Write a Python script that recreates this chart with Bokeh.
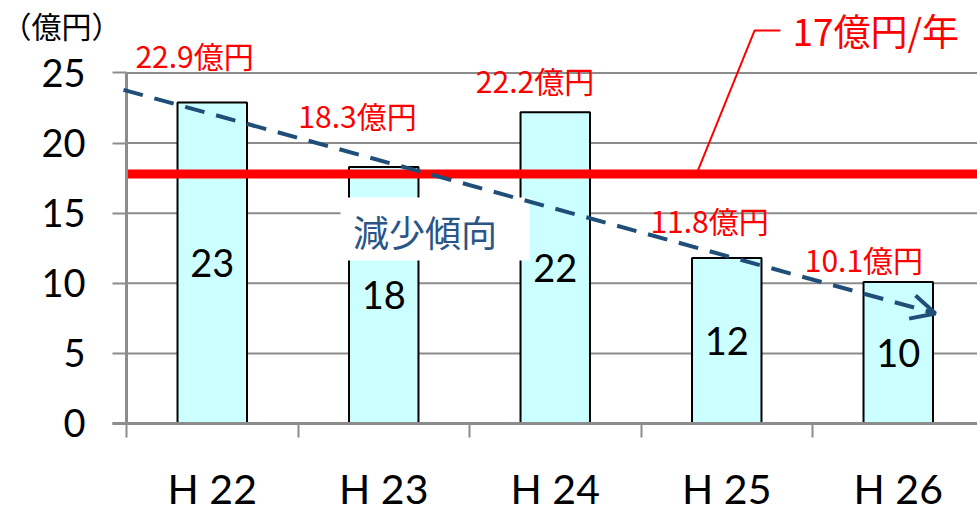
from bokeh.plotting import figure
from bokeh.models import FixedTicker, Arrow, OpenHead, Range1d
from bokeh.core.properties import value
from bokeh.embed import file_html
from bokeh.resources import INLINE

# ---- data ----
categories = ["H 22", "H 23", "H 24", "H 25", "H 26"]
amounts = [22.9, 18.3, 22.2, 11.8, 10.1]
bar_labels = ["23", "18", "22", "12", "10"]
amount_labels = ["22.9億円", "18.3億円", "22.2億円", "11.8億円", "10.1億円"]
target = 17.8
target_label = "17億円/年"
trend_start = 23.8
trend_end = 7.85
y_ticks = [0, 5, 10, 15, 20, 25]
unit_label = "（億円）"
trend_label = "減少傾向"

# ---- layout constants ----
xs = [i + 0.5 for i in range(len(categories))]
X0, X1 = -0.7347, 4.9621
Y0, Y1 = -6.348, 30.17
amount_label_x = [0.397, 1.347, 2.382, 3.40, 4.30]
amount_label_y = [26.25, 22.0, 24.47, 14.48, 11.73]

JP = "Noto Sans CJK JP"
LAT = "Lato"
GRAY = "#8C8C8C"
NAVY = "#1F4E79"

p = figure(width=977, height=512, x_range=Range1d(X0, X1), y_range=Range1d(Y0, Y1),
           output_backend="svg", toolbar_location=None,
           min_border_left=0, min_border_right=0, min_border_top=0, min_border_bottom=0)
p.outline_line_color = None
p.background_fill_color = "white"
p.xgrid.visible = False
p.ygrid.visible = False

# horizontal grid lines
p.segment(x0=[0] * len(y_ticks), x1=[X1] * len(y_ticks), y0=y_ticks, y1=y_ticks,
          line_color=GRAY, line_width=2)

# x axis, pinned at y = 0
p.xaxis.fixed_location = 0
p.xaxis.ticker = FixedTicker(ticks=xs, minor_ticks=[0, 1, 2, 3, 4, 5])
p.xaxis.major_label_overrides = {x: c for x, c in zip(xs, categories)}
p.xaxis.bounds = (-0.0816, X1)
p.xaxis.major_tick_out = 0
p.xaxis.major_tick_in = 0
p.xaxis.minor_tick_out = 14
p.xaxis.minor_tick_in = 0
p.xaxis.minor_tick_line_color = GRAY
p.xaxis.minor_tick_line_width = 2
p.xaxis.axis_line_color = GRAY
p.xaxis.axis_line_width = 3
p.xaxis.major_label_text_font = LAT
p.xaxis.major_label_text_font_size = "41px"
p.xaxis.major_label_text_color = "black"
p.xaxis.major_label_standoff = 27

# y axis, pinned at x = 0
p.yaxis.fixed_location = 0
p.yaxis.ticker = FixedTicker(ticks=y_ticks, minor_ticks=[])
p.yaxis.bounds = (0, 25)
p.yaxis.major_tick_out = 14
p.yaxis.major_tick_in = 0
p.yaxis.major_tick_line_color = GRAY
p.yaxis.major_tick_line_width = 2
p.yaxis.axis_line_color = GRAY
p.yaxis.axis_line_width = 3
p.yaxis.major_label_text_font = LAT
p.yaxis.major_label_text_font_size = "38px"
p.yaxis.major_label_text_color = "black"
p.yaxis.major_label_standoff = 27

# bars
p.vbar(x=xs, top=amounts, width=0.405, bottom=0, fill_color="#CCFFFF",
       line_color="black", line_width=2)
p.text(x=xs, y=[a / 2 for a in amounts], text=bar_labels, text_align="center",
       text_baseline="middle", text_font=value(LAT), text_font_size="38px", text_color="black")

# white box behind trend label
p.quad(left=[1.248], right=[2.350], top=[16.12], bottom=[11.63], fill_color="white",
       line_color=None)
p.text(x=[1.74], y=[13.7], text=[trend_label], text_align="center", text_baseline="middle",
       text_font=value(JP), text_font_size="36px", text_color="#2A5587")

# target line and leader
p.line(x=[0, X1], y=[target, target], line_color="red", line_width=9)
p.line(x=[3.324, 3.662, 3.813], y=[target, 28.03, 28.03], line_color="red", line_width=2)
p.text(x=[3.883], y=[28.05], text=[target_label], text_align="left", text_baseline="middle",
       text_font=value(JP), text_font_size="37px", text_color="red")

# amount labels
p.text(x=amount_label_x, y=amount_label_y, text=amount_labels, text_align="center",
       text_baseline="middle", text_font=value(JP), text_font_size="30px", text_color="red")

# unit label
p.text(x=[X0 + 0.006], y=[28.39], text=[unit_label], text_align="left", text_baseline="middle",
       text_font=value(JP), text_font_size="30px", text_color="black")

# trend arrow
p.add_layout(Arrow(end=OpenHead(size=24, line_color=NAVY, line_width=4),
                   x_start=-0.0175, y_start=trend_start, x_end=4.717, y_end=trend_end,
                   line_color=NAVY, line_width=4, line_dash="20 12"))

open("out.html", "w").write(file_html(p, INLINE))
